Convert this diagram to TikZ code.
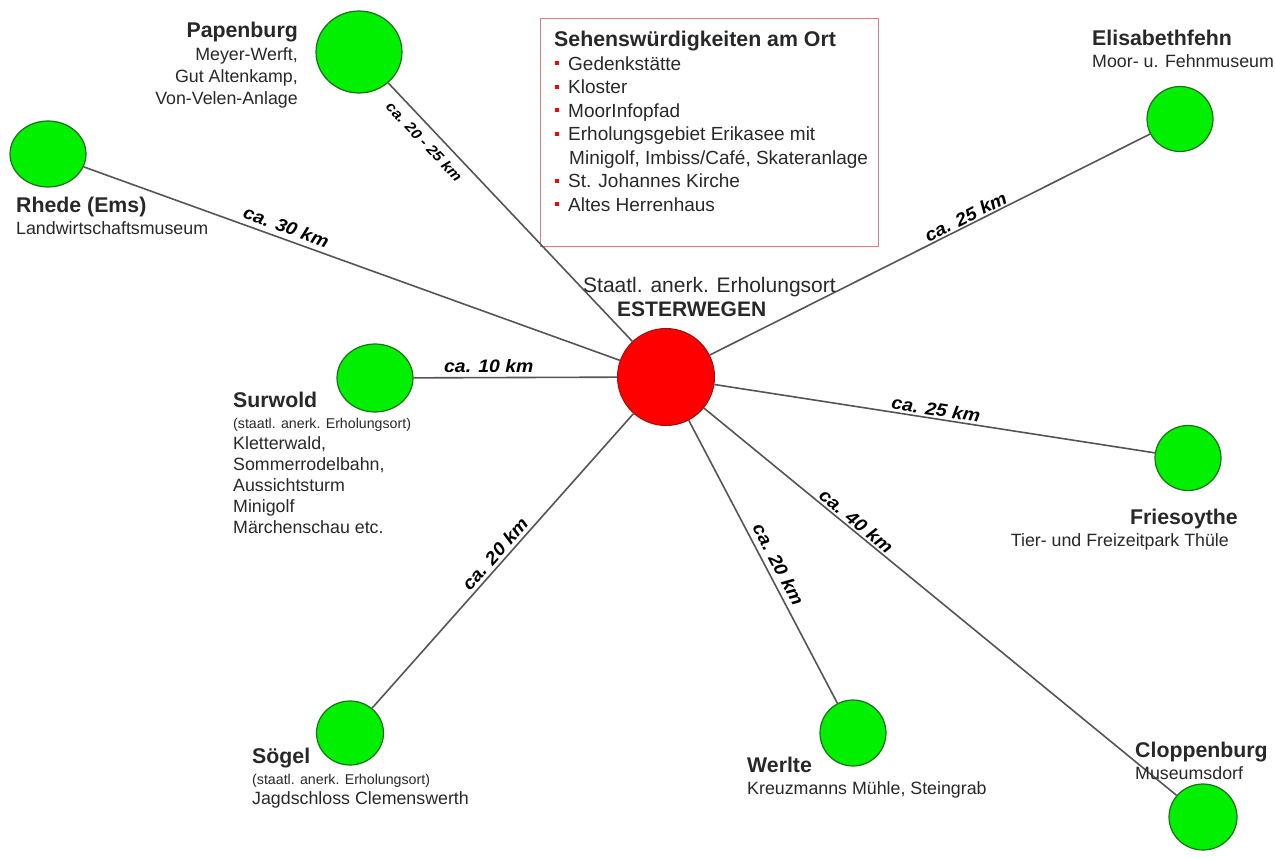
\documentclass[tikz,border=0pt]{standalone}
\usepackage{fontspec}
\setmainfont{Liberation Sans}
\newfontface\kmface[FakeStretch=1.08]{Liberation Sans Bold Italic}
\usetikzlibrary{shapes.geometric}
\definecolor{gfill}{RGB}{0,240,0}
\definecolor{gdraw}{RGB}{30,110,30}
\definecolor{rfill}{RGB}{255,0,0}
\definecolor{rdraw}{RGB}{150,20,20}
\definecolor{txt}{RGB}{40,40,40}
\definecolor{edgec}{RGB}{85,85,85}
\definecolor{boxc}{RGB}{230,120,130}
\newcommand\townname[1]{{\fontsize{21.3}{22}\selectfont\bfseries #1}}
\newcommand\smalltxt[1]{{\fontsize{14.2}{22}\selectfont #1}}
\newcommand\bulitem{\makebox[14pt][l]{\hspace{1pt}\textcolor{red}{\rule[4.8pt]{4pt}{4pt}}}}
\begin{document}
\begin{tikzpicture}[x=1pt,y=-1pt,
  town/.style={ellipse, fill=gfill, draw=gdraw, line width=1.2pt, inner sep=0},
  hub/.style={circle, fill=rfill, draw=rdraw, line width=1pt, inner sep=0, minimum size=97pt},
  road/.style={draw=edgec, line width=1.6pt},
  km/.style={font=\fontsize{18}{18}\kmface, text=black, inner sep=0, sloped},
  info/.style={font=\fontsize{17.8}{22}\selectfont, text=txt, inner sep=0},
  infobox/.style={draw=boxc, line width=1.2pt, inner sep=0, anchor=north west},
]
\useasboundingbox (0,0) rectangle (1275,859);

% info box
\node[infobox, minimum width=338pt, minimum height=228pt] (box) at (540,18) {};
\node[info, anchor=north west, align=left, font=\fontsize{19}{23.5}\selectfont] (boxtxt) at (554,31) {%
  \townname{Sehenswürdigkeiten am Ort}\\
  \bulitem Gedenkstätte\\
  \bulitem Kloster\\
  \bulitem MoorInfopfad\\
  \bulitem Erholungsgebiet Erikasee mit\\
  \hspace*{15pt}Minigolf, Imbiss/Café, Skateranlage\\
  \bulitem St. Johannes Kirche\\
  \bulitem Altes Herrenhaus};

% places
\node[hub] (est) at (666,377) {};
\node[town, minimum width=86pt, minimum height=82pt] (pap) at (359,52) {};
\node[town, minimum width=76pt, minimum height=66pt] (rhe) at (48,154) {};
\node[town, minimum width=76pt, minimum height=68pt] (sur) at (375,378) {};
\node[town, minimum width=66pt, minimum height=65pt] (eli) at (1180,119) {};
\node[town, minimum width=66pt, minimum height=65pt] (fri) at (1188,458) {};
\node[town, minimum width=68pt, minimum height=66pt] (clo) at (1203,817) {};
\node[town, minimum width=66pt, minimum height=66pt] (wer) at (853,733) {};
\node[town, minimum width=67pt, minimum height=64pt] (sog) at (350,733) {};

% roads with distance labels
\draw[road] (est) -- node[km, pos=0.81, below=8pt, font=\fontsize{14.5}{15}\kmface] (kpap) {ca. 20 - 25 km} (pap);
\draw[road] (est) -- node[km, pos=0.63, above=5pt] (krhe) {ca. 30 km} (rhe);
\draw[road] (est) -- node[km, pos=0.63, above=4pt] (ksur) {ca. 10 km} (sur);
\draw[road] (est) -- node[km, pos=0.59, above=1.5pt] (keli) {ca. 25 km} (eli);
\draw[road] (est) -- node[km, pos=0.50, above=2pt] (kfri) {ca. 25 km} (fri);
\draw[road] (est) -- node[km, pos=0.31, above=2pt] (kclo) {ca. 40 km} (clo);
\draw[road] (est) -- node[km, pos=0.53, above=5pt] (kwer) {ca. 20 km} (wer);
\draw[road] (est) -- node[km, pos=0.50, above=3pt] (ksog) {ca. 20 km} (sog);

% texts
\node[info, anchor=north west, align=left, font=\fontsize{21}{24}\selectfont] (test) at (583,277) {Staatl. anerk. Erholungsort\\\hspace*{34pt}\textbf{ESTERWEGEN}};
\node[info, anchor=north east, align=right] (tpap) at (298,22) {\townname{Papenburg}\\[1pt]Meyer-Werft,\\Gut Altenkamp,\\Von-Velen-Anlage};
\node[info, anchor=north west, align=left] (trhe) at (16,197) {\townname{Rhede (Ems)}\\Landwirtschaftsmuseum};
\node[info, anchor=north west, align=left] (teli) at (1092,30) {\townname{Elisabethfehn}\\Moor- u. Fehnmuseum};
\node[info, anchor=north west, align=left, font=\fontsize{17.8}{21}\selectfont] (tsur) at (233,392) {\townname{Surwold}\\\smalltxt{(staatl. anerk. Erholungsort)}\\Kletterwald,\\Sommerrodelbahn,\\Aussichtsturm\\Minigolf\\Märchenschau etc.};
\node[info, anchor=north west, align=left, font=\fontsize{17.8}{20.5}\selectfont] (tsog) at (252,748) {\townname{Sögel}\\\smalltxt{(staatl. anerk. Erholungsort)}\\Jagdschloss Clemenswerth};
\node[info, anchor=north west, align=left] (twer) at (747,757) {\townname{Werlte}\\Kreuzmanns Mühle, Steingrab};
\node[info, anchor=north west, align=left] (tclo) at (1135,742) {\townname{Cloppenburg}\\Museumsdorf};
\node[info, anchor=north east, align=right] (tfri) at (1238,509) {\townname{Friesoythe}\\Tier- und Freizeitpark Thüle\kern9pt\relax};
\end{tikzpicture}
\end{document}
